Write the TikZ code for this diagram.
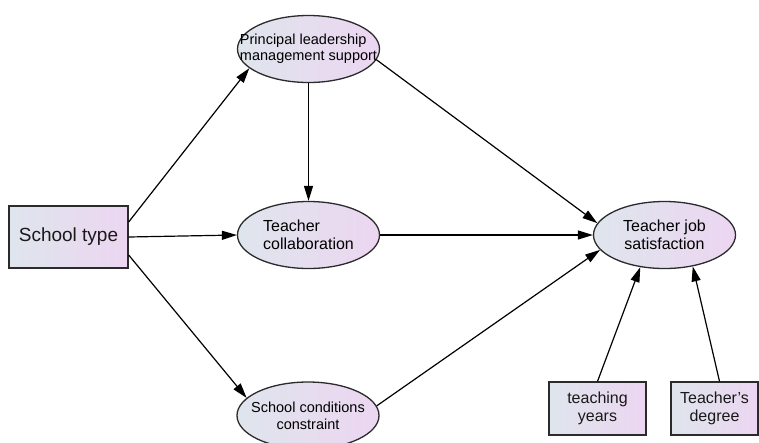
\documentclass[tikz,border=0pt]{standalone}
\usepackage{fontspec}
\setmainfont{Liberation Sans}
\usetikzlibrary{arrows.meta,shapes}
\definecolor{shadeL}{HTML}{DFE5ED}
\definecolor{shadeR}{HTML}{ECD6F1}
\definecolor{edgeC}{HTML}{2B2B2B}
\tikzset{
  latent/.style={ellipse,draw=edgeC,line width=1.3pt,left color=shadeL,right color=shadeR,
    minimum width=142pt,minimum height=67pt,inner sep=0pt},
  observed/.style={rectangle,draw=edgeC,line width=1.3pt,left color=shadeL,right color=shadeR,
    inner sep=0pt,align=center,text=black!90},
  path/.style={-{Triangle[length=15pt,width=9pt]},line width=1.2pt,black}
}
\begin{document}
\begin{tikzpicture}[x=10pt,y=-10pt]
\useasboundingbox(0,0)rectangle(75.9,44.2);
\clip(0,0)rectangle(75.9,44.2);
%exogenous
\node[observed,minimum width=119pt,minimum height=62pt,font={\fontsize{19}{21}\selectfont}](stype)at(6.85,23.7){School type};
%mediators
\node[latent,label={[align=left,font={\fontsize{14.5}{16}\selectfont}]center:Principal leadership\\management support}](plead)at(30.85,4.9){};
\node[latent,label={[align=left,font={\fontsize{16}{18}\selectfont}]center:Teacher\\collaboration}](collab)at(30.85,23.5){};
\node[latent,label={[align=center,font={\fontsize{14.5}{17}\selectfont}]center:School conditions\\constraint}](cond)at(30.8,41.55){};
%outcome
\node[latent,label={[align=center,font={\fontsize{16}{18}\selectfont}]center:Teacher job\\satisfaction}](sat)at(66.45,23.5){};
%controls
\node[observed,minimum width=97pt,minimum height=53pt,font={\fontsize{16}{18}\selectfont}](years)at(59.75,40.85){teaching\\years};
\node[observed,minimum width=87pt,minimum height=53pt,font={\fontsize{16}{18}\selectfont}](degree)at(71.45,40.85){Teacher’s\\degree};
%paths
\draw[path]([yshift=15pt]stype.east)--(plead.198);
\draw[path](stype.east)--(collab.west);
\draw[path]([yshift=-18pt]stype.east)--(cond.164);
\draw[path](plead.south)--(collab.north);
\draw[path](plead.-9)--(sat.170);
\draw[path](collab.east)--(sat.west);
\draw[path](cond.8)--(sat.193);
\draw[path](years.north)--(sat.233);
\draw[path]([xshift=5pt]degree.north)--(sat.312);
\end{tikzpicture}
\end{document}
